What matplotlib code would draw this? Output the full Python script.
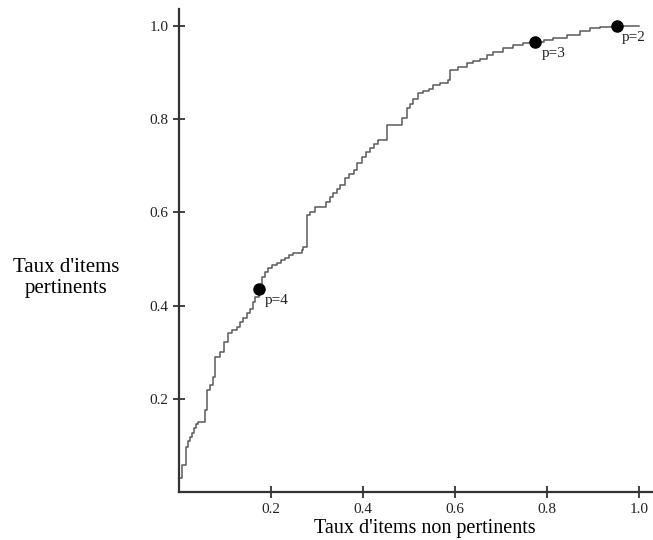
import matplotlib
matplotlib.use("Agg")
import matplotlib.pyplot as plt

# Step curve (rate of non-relevant items, rate of relevant items)
fpr = [0.0, 0.008, 0.015, 0.020, 0.025, 0.029, 0.033, 0.038, 0.041, 0.057, 0.061, 0.068,
       0.075, 0.079, 0.090, 0.098, 0.108, 0.116, 0.126, 0.133, 0.140, 0.148, 0.155, 0.162,
       0.166, 0.175, 0.180, 0.188, 0.195, 0.203, 0.213, 0.222, 0.231, 0.240, 0.249, 0.267,
       0.271, 0.278, 0.285, 0.296, 0.320, 0.329, 0.336, 0.344, 0.351, 0.362, 0.370, 0.380,
       0.388, 0.398, 0.407, 0.416, 0.425, 0.434, 0.452, 0.453, 0.485, 0.496, 0.503, 0.510,
       0.521, 0.531, 0.543, 0.553, 0.568, 0.586, 0.590, 0.607, 0.626, 0.640, 0.655, 0.670,
       0.684, 0.705, 0.727, 0.749, 0.775, 0.794, 0.814, 0.843, 0.872, 0.894, 0.916, 0.952,
       1.0]
tpr = [0.031, 0.059, 0.098, 0.110, 0.119, 0.127, 0.138, 0.147, 0.151, 0.177, 0.219, 0.230,
       0.248, 0.291, 0.301, 0.322, 0.341, 0.348, 0.355, 0.365, 0.373, 0.384, 0.394, 0.408,
       0.419, 0.434, 0.462, 0.472, 0.480, 0.487, 0.491, 0.498, 0.502, 0.509, 0.512, 0.519,
       0.526, 0.594, 0.601, 0.612, 0.623, 0.633, 0.641, 0.650, 0.659, 0.673, 0.682, 0.691,
       0.706, 0.719, 0.729, 0.737, 0.747, 0.755, 0.762, 0.787, 0.802, 0.823, 0.832, 0.843,
       0.855, 0.860, 0.864, 0.873, 0.877, 0.884, 0.905, 0.912, 0.919, 0.924, 0.928, 0.937,
       0.944, 0.952, 0.959, 0.962, 0.964, 0.969, 0.973, 0.980, 0.989, 0.994, 0.998, 1.0,
       1.0]

# Highlighted operating points
pt_labels = ["p=4", "p=3", "p=2"]
pt_x = [0.175, 0.775, 0.952]
pt_y = [0.435, 0.964, 1.0]

tick_vals = [0.2, 0.4, 0.6, 0.8, 1.0]
tick_labels = ["0.2", "0.4", "0.6", "0.8", "1.0"]

xlabel = "Taux d'items non pertinents"
ylabel = "Taux d'items\npertinents"

serif = ["Liberation Serif", "DejaVu Serif"]

fig = plt.figure(figsize=(6.53, 5.40), dpi=100)
ax = fig.add_axes([0.2737, 0.0881, 0.7256, 0.8946])
ax.set_xlim(0, 1.03)
ax.set_ylim(0, 1.035)

ax.plot(fpr, tpr, drawstyle="steps-post", color="#5a5a5a", lw=1.1)
ax.plot(pt_x, pt_y, "o", color="black", ms=8, zorder=5)

offsets = [(6, -11), (7, -11), (5, -12)]
for lab, x, y, off in zip(pt_labels, pt_x, pt_y, offsets):
    ax.annotate(lab, (x, y), xytext=off, textcoords="offset pixels",
                ha="left", va="center", fontsize=11, family=serif, color="#222222")

for s in ["top", "right"]:
    ax.spines[s].set_visible(False)
for s in ["left", "bottom"]:
    ax.spines[s].set_color("#333333")
    ax.spines[s].set_linewidth(1.6)

ax.set_xticks(tick_vals)
ax.set_xticklabels(tick_labels, family=serif, fontsize=11, color="#222222")
ax.set_yticks(tick_vals)
ax.set_yticklabels(tick_labels, family=serif, fontsize=11, color="#222222")
ax.tick_params(direction="inout", length=9, width=1.3, color="#333333")
ax.tick_params(axis="x", pad=3)
ax.tick_params(axis="y", pad=3)

ax.set_xlabel(xlabel, family=serif, fontsize=14.5, color="black", va="center")
ax.xaxis.set_label_coords(0.519, -0.075)
fig.text(0.101, 0.486, ylabel, family=serif, fontsize=15, ha="center", va="center",
         multialignment="center", linespacing=1.15)

fig.savefig("out.png", dpi=100)
